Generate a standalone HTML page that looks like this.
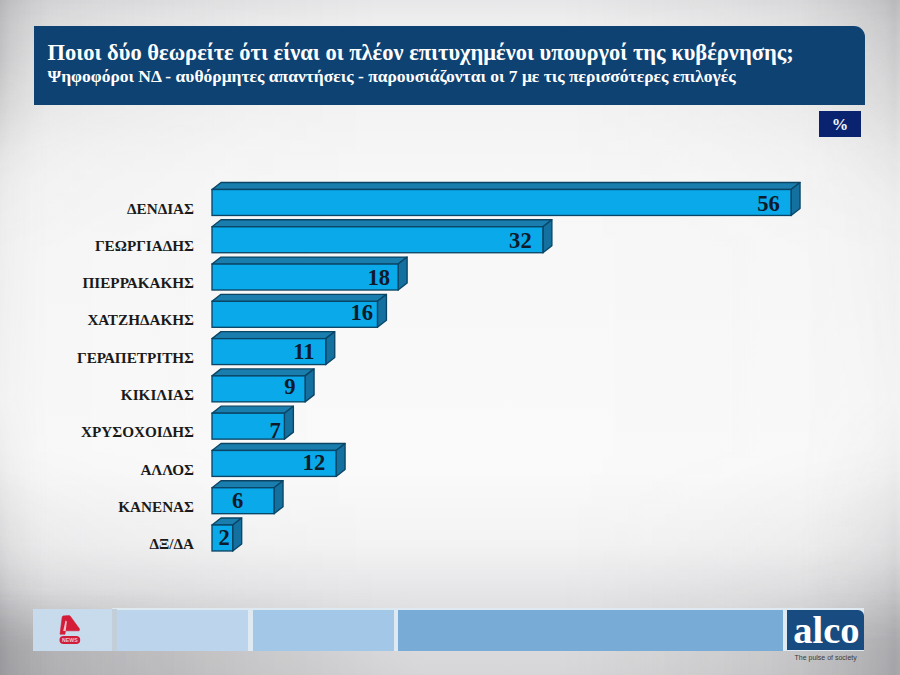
<!DOCTYPE html>
<html><head><meta charset="utf-8"><style>
*{margin:0;padding:0;box-sizing:border-box}
html,body{width:900px;height:675px;overflow:hidden}
body{position:relative;font-family:"Liberation Serif",serif;
background:
 linear-gradient(to bottom, #e7e7e9 0px, #eeeeef 22px, #f1f1f2 50px, #f3f3f3 100px, #f7f7f7 180px, #fafafa 470px, #f3f3f4 545px, #e6e6e8 590px, #d9d9db 630px, #d2d2d4 675px);
}
.lb{position:absolute;left:0;top:0;width:50px;height:675px;
background:linear-gradient(to right, rgba(90,90,95,.2) 0px, rgba(90,90,95,.12) 10px, rgba(90,90,95,.04) 30px, rgba(90,90,95,0) 50px);
-webkit-mask:linear-gradient(to bottom,#000 0,#000 60px,rgba(0,0,0,.25) 180px,rgba(0,0,0,.15) 400px,rgba(0,0,0,.6) 560px,#000 640px);}
.edge{position:absolute;left:0;top:0;width:900px;height:675px;
background:linear-gradient(to right, rgba(70,70,75,.16) 0px, rgba(70,70,75,.09) 100px, rgba(70,70,75,.03) 250px, rgba(70,70,75,0) 380px, rgba(70,70,75,0) 560px, rgba(70,70,75,.05) 720px, rgba(70,70,75,.12) 860px, rgba(70,70,75,.16) 900px);
-webkit-mask:linear-gradient(to bottom, #000 0px, rgba(0,0,0,.7) 60px, rgba(0,0,0,.25) 150px, rgba(0,0,0,.1) 250px, rgba(0,0,0,.1) 450px, rgba(0,0,0,.4) 560px, #000 640px);}
.bb{position:absolute;left:0;top:590px;width:900px;height:85px;
background:linear-gradient(to right, rgba(80,80,85,.16) 0px, rgba(80,80,85,.10) 180px, rgba(255,255,255,.10) 420px, rgba(255,255,255,.10) 600px, rgba(80,80,85,.0) 760px, rgba(80,80,85,.06) 880px);
-webkit-mask:linear-gradient(to bottom, transparent 0, #000 60px);}
.rb{position:absolute;left:800px;top:0;width:100px;height:675px;
background:linear-gradient(to right, rgba(90,90,95,0) 0px, rgba(90,90,95,.06) 50px, rgba(90,90,95,.12) 85px, rgba(90,90,95,.18) 95px, rgba(90,90,95,.12) 100px);
-webkit-mask:linear-gradient(to bottom,#000 0,rgba(0,0,0,.7) 80px,rgba(0,0,0,.2) 200px,rgba(0,0,0,.1) 400px,rgba(0,0,0,.6) 560px,#000 640px);}
.hdr{position:absolute;left:34px;top:26px;width:831px;height:79px;background:#0e4272;border-top-right-radius:11px;}
.t1{position:absolute;left:47.5px;top:38px;font-weight:bold;font-size:22.5px;color:#fff;white-space:nowrap;line-height:30px}
.t2{position:absolute;left:47.5px;top:64.6px;font-weight:bold;font-size:17.5px;color:#fff;white-space:nowrap;line-height:22px}
.pct{position:absolute;left:818.7px;top:111px;width:42.5px;height:25.7px;background:#0a2370;color:#f4f6fb;font-weight:bold;font-size:16.5px;text-align:center;line-height:28.5px}
svg{position:absolute;left:0;top:0}
.v{font-family:"Liberation Serif",serif;font-weight:bold;font-size:22.6px;fill:#0d1a2a}
.c{font-family:"Liberation Serif",serif;font-weight:bold;font-size:15.2px;fill:#1a1a1a}
.fb{position:absolute;top:609px;height:41px}
.alco{position:absolute;left:787.3px;top:609.5px;width:76.5px;height:40.8px;background:#184b7f;border-top-right-radius:6px}
.alco span{position:absolute;left:6px;top:-2px;font-size:38.5px;font-weight:bold;color:#fff;letter-spacing:0px;line-height:44px}
.tag{position:absolute;left:794.5px;top:652.5px;font-family:"Liberation Sans",sans-serif;font-size:7px;color:#3a3a3a;white-space:nowrap;line-height:10px}
</style></head><body>
<div class="edge"></div><div class="bb"></div><div class="lb"></div><div class="rb"></div>
<div class="hdr"></div>
<div class="t1">Ποιοι δύο θεωρείτε ότι είναι οι πλέον επιτυχημένοι υπουργοί της κυβέρνησης;</div>
<div class="t2">Ψηφοφόροι ΝΔ - αυθόρμητες απαντήσεις - παρουσιάζονται οι 7 με τις περισσότερες επιλογές</div>
<div class="pct">%</div>
<svg width="900" height="675" viewBox="0 0 900 675">
<polygon points="212.0,189.5 221.0,182.5 800.04,182.5 791.04,189.5" fill="#197eae" stroke="#0a4565" stroke-width="1.35" stroke-linejoin="round"/>
<polygon points="791.04,189.5 800.04,182.5 800.04,208.45 791.04,215.45" fill="#13709f" stroke="#0a4565" stroke-width="1.35" stroke-linejoin="round"/>
<rect x="212.0" y="189.5" width="579.04" height="25.95" fill="#0aa9ea" stroke="#0a4565" stroke-width="1.35"/>
<text x="779.9" y="211.0" text-anchor="end" class="v">56</text>
<text x="194" y="213.5" text-anchor="end" class="c">ΔΕΝΔΙΑΣ</text>
<polygon points="212.0,226.78 221.0,219.78 551.88,219.78 542.88,226.78" fill="#197eae" stroke="#0a4565" stroke-width="1.35" stroke-linejoin="round"/>
<polygon points="542.88,226.78 551.88,219.78 551.88,245.73 542.88,252.73" fill="#13709f" stroke="#0a4565" stroke-width="1.35" stroke-linejoin="round"/>
<rect x="212.0" y="226.78" width="330.88" height="25.95" fill="#0aa9ea" stroke="#0a4565" stroke-width="1.35"/>
<text x="531.7" y="248.4" text-anchor="end" class="v">32</text>
<text x="194" y="250.8" text-anchor="end" class="c">ΓΕΩΡΓΙΑΔΗΣ</text>
<polygon points="212.0,264.06 221.0,257.06 407.12,257.06 398.12,264.06" fill="#197eae" stroke="#0a4565" stroke-width="1.35" stroke-linejoin="round"/>
<polygon points="398.12,264.06 407.12,257.06 407.12,283.01 398.12,290.01" fill="#13709f" stroke="#0a4565" stroke-width="1.35" stroke-linejoin="round"/>
<rect x="212.0" y="264.06" width="186.12" height="25.95" fill="#0aa9ea" stroke="#0a4565" stroke-width="1.35"/>
<text x="390.0" y="285.0" text-anchor="end" class="v">18</text>
<text x="194" y="288.1" text-anchor="end" class="c">ΠΙΕΡΡΑΚΑΚΗΣ</text>
<polygon points="212.0,301.34000000000003 221.0,294.34000000000003 386.44,294.34000000000003 377.44,301.34000000000003" fill="#197eae" stroke="#0a4565" stroke-width="1.35" stroke-linejoin="round"/>
<polygon points="377.44,301.34000000000003 386.44,294.34000000000003 386.44,320.29 377.44,327.29" fill="#13709f" stroke="#0a4565" stroke-width="1.35" stroke-linejoin="round"/>
<rect x="212.0" y="301.34000000000003" width="165.44" height="25.95" fill="#0aa9ea" stroke="#0a4565" stroke-width="1.35"/>
<text x="373.0" y="320.0" text-anchor="end" class="v">16</text>
<text x="194" y="325.4" text-anchor="end" class="c">ΧΑΤΖΗΔΑΚΗΣ</text>
<polygon points="212.0,338.62 221.0,331.62 334.74,331.62 325.74,338.62" fill="#197eae" stroke="#0a4565" stroke-width="1.35" stroke-linejoin="round"/>
<polygon points="325.74,338.62 334.74,331.62 334.74,357.57 325.74,364.57" fill="#13709f" stroke="#0a4565" stroke-width="1.35" stroke-linejoin="round"/>
<rect x="212.0" y="338.62" width="113.74" height="25.95" fill="#0aa9ea" stroke="#0a4565" stroke-width="1.35"/>
<text x="314.5" y="359.3" text-anchor="end" class="v">11</text>
<text x="194" y="362.7" text-anchor="end" class="c">ΓΕΡΑΠΕΤΡΙΤΗΣ</text>
<polygon points="212.0,375.9 221.0,368.9 314.06,368.9 305.06,375.9" fill="#197eae" stroke="#0a4565" stroke-width="1.35" stroke-linejoin="round"/>
<polygon points="305.06,375.9 314.06,368.9 314.06,394.84999999999997 305.06,401.84999999999997" fill="#13709f" stroke="#0a4565" stroke-width="1.35" stroke-linejoin="round"/>
<rect x="212.0" y="375.9" width="93.06" height="25.95" fill="#0aa9ea" stroke="#0a4565" stroke-width="1.35"/>
<text x="295.6" y="393.7" text-anchor="end" class="v">9</text>
<text x="194" y="400.0" text-anchor="end" class="c">ΚΙΚΙΛΙΑΣ</text>
<polygon points="212.0,413.18 221.0,406.18 293.38,406.18 284.38,413.18" fill="#197eae" stroke="#0a4565" stroke-width="1.35" stroke-linejoin="round"/>
<polygon points="284.38,413.18 293.38,406.18 293.38,432.13 284.38,439.13" fill="#13709f" stroke="#0a4565" stroke-width="1.35" stroke-linejoin="round"/>
<rect x="212.0" y="413.18" width="72.38" height="25.95" fill="#0aa9ea" stroke="#0a4565" stroke-width="1.35"/>
<text x="280.8" y="438.2" text-anchor="end" class="v">7</text>
<text x="194" y="437.3" text-anchor="end" class="c">ΧΡΥΣΟΧΟΙΔΗΣ</text>
<polygon points="212.0,450.46000000000004 221.0,443.46000000000004 345.08,443.46000000000004 336.08,450.46000000000004" fill="#197eae" stroke="#0a4565" stroke-width="1.35" stroke-linejoin="round"/>
<polygon points="336.08,450.46000000000004 345.08,443.46000000000004 345.08,469.41 336.08,476.41" fill="#13709f" stroke="#0a4565" stroke-width="1.35" stroke-linejoin="round"/>
<rect x="212.0" y="450.46000000000004" width="124.08" height="25.95" fill="#0aa9ea" stroke="#0a4565" stroke-width="1.35"/>
<text x="325.2" y="470.4" text-anchor="end" class="v">12</text>
<text x="194" y="474.6" text-anchor="end" class="c">ΑΛΛΟΣ</text>
<polygon points="212.0,487.74 221.0,480.74 283.04,480.74 274.04,487.74" fill="#197eae" stroke="#0a4565" stroke-width="1.35" stroke-linejoin="round"/>
<polygon points="274.04,487.74 283.04,480.74 283.04,506.69000000000005 274.04,513.69" fill="#13709f" stroke="#0a4565" stroke-width="1.35" stroke-linejoin="round"/>
<rect x="212.0" y="487.74" width="62.04" height="25.95" fill="#0aa9ea" stroke="#0a4565" stroke-width="1.35"/>
<text x="243.3" y="508.2" text-anchor="end" class="v">6</text>
<text x="194" y="511.9" text-anchor="end" class="c">ΚΑΝΕΝΑΣ</text>
<polygon points="212.0,525.02 221.0,518.02 241.68,518.02 232.68,525.02" fill="#197eae" stroke="#0a4565" stroke-width="1.35" stroke-linejoin="round"/>
<polygon points="232.68,525.02 241.68,518.02 241.68,543.97 232.68,550.97" fill="#13709f" stroke="#0a4565" stroke-width="1.35" stroke-linejoin="round"/>
<rect x="212.0" y="525.02" width="20.68" height="25.95" fill="#0aa9ea" stroke="#0a4565" stroke-width="1.35"/>
<text x="229.7" y="545.0" text-anchor="end" class="v">2</text>
<text x="194" y="549.2" text-anchor="end" class="c">ΔΞ/ΔΑ</text>
</svg>
<div class="fb" style="left:112px;width:752px;top:608.3px;height:43.2px;background:#dfe9f2"></div>
<div class="fb" style="left:112px;width:5px;top:609px;height:41.5px;background:#c2ced8"></div>
<div class="fb" style="left:33.3px;width:78.7px;top:609px;height:41.5px;background:#c7dbec"></div>
<div class="fb" style="left:117px;width:131.4px;top:609.5px;height:41px;background:#bdd5ec"></div>
<div class="fb" style="left:253.2px;width:141px;top:609.5px;height:41px;background:#a3c7e6"></div>
<div class="fb" style="left:397.8px;width:385.3px;top:609.5px;height:41px;background:#78acd7"></div>
<svg width="900" height="675" viewBox="0 0 900 675" style="position:absolute;left:0;top:0">
<polygon points="60,634.2 62.2,616.8 63.1,615.9 69.2,615.6 70.3,616.2 79.6,629 79.1,630.8 65.4,630.8 65,634.2" fill="#d41c38" stroke="#d41c38" stroke-width="0.6" stroke-linejoin="round"/>
<polygon points="63.2,631 65.7,631 66.9,621.4 65.5,620.6" fill="#f2bfc8"/>
<rect x="59.5" y="635.9" width="20.7" height="8.2" rx="4.1" fill="#cf1d3a"/>
<text x="69.9" y="642.3" text-anchor="middle" font-family="Liberation Sans" font-weight="bold" font-size="5.2" fill="#f3c6ce">NEWS</text>
</svg>
<div class="alco"><span>alco</span></div>
<div class="tag">The pulse of society</div>
</body></html>
